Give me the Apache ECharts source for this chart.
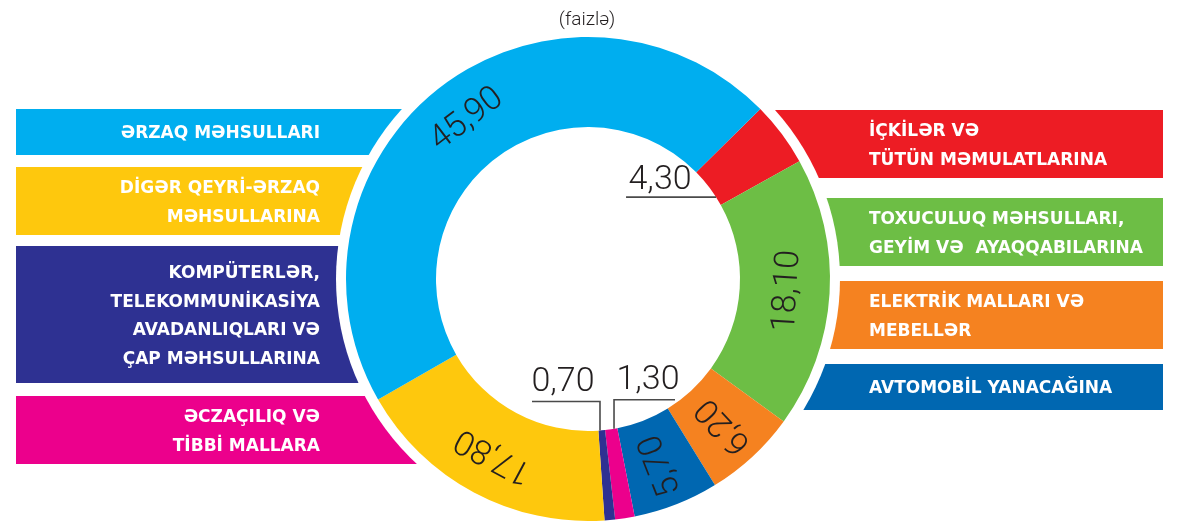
<!DOCTYPE html>
<html><head><meta charset="utf-8">
<script src="https://cdn.jsdelivr.net/npm/echarts@6/dist/echarts.min.js"></script>
<style>html,body{margin:0;padding:0;background:#fff}#c{width:1187px;height:528px}</style>
</head><body><div id="c"></div>
<script>
// ---------- DATA ----------
const categories = [
  'İÇKİLƏR VƏ\nTÜTÜN MƏMULATLARINA',
  'TOXUCULUQ MƏHSULLARI,\nGEYİM VƏ  AYAQQABILARINA',
  'ELEKTRİK MALLARI VƏ\nMEBELLƏR',
  'AVTOMOBİL YANACAĞINA',
  'ƏCZAÇILIQ VƏ\nTİBBİ MALLARA',
  'KOMPÜTERLƏR,\nTELEKOMMUNİKASİYA\nAVADANLIQLARI VƏ\nÇAP MƏHSULLARINA',
  'DİGƏR QEYRİ-ƏRZAQ\nMƏHSULLARINA',
  'ƏRZAQ MƏHSULLARI'
];
const values = [4.30, 18.10, 6.20, 5.70, 1.30, 0.70, 17.80, 45.90];
const colors = ['#ED1C24', '#6DBE45', '#F58220', '#0067B1', '#EC008C', '#2E3192', '#FEC80D', '#00AEEF'];
const subtitle = '(faizlə)';

// ---------- LAYOUT / STYLE ----------
const CX = 588, CY = 279, R0 = 152, R1 = 242, RW = 252;
const START = 44.6;
const NUM_FONT = 'Roboto, "Liberation Sans", sans-serif';
const BOX_FONT = '"DejaVu Sans", sans-serif';
// label mode: 'out' = tangential (top outward), 'in' = tangential (top inward), 'radial' = reading inward, 'ext' = outside leader
const labelMode = ['ext', 'in', 'radial', 'radial', 'ext', 'ext', 'out', 'out'];
// external leaders: anchor fraction through segment, kind
const extLab = {
  0: {frac: 0.775, kind: 'hleft', len: 90, textDx: -56, textY: -17},
  5: {frac: 0.76, kind: 'vleft', up: 29, len: 68, textDx: -37},
  4: {frac: 0.27, kind: 'vright', up: 29, len: 61, textDx: 34}
};
const boxes = [
  {i: 7, side: 'L', y: 109, h: 46},
  {i: 6, side: 'L', y: 167, h: 68},
  {i: 5, side: 'L', y: 246, h: 137},
  {i: 4, side: 'L', y: 396, h: 68},
  {i: 0, side: 'R', y: 110, h: 68},
  {i: 1, side: 'R', y: 198, h: 68},
  {i: 2, side: 'R', y: 281, h: 68},
  {i: 3, side: 'R', y: 364, h: 46}
];

const total = values.reduce((a, b) => a + b, 0);
let cum = 0;
const seg = values.map(v => {
  const a0 = START - 360 * cum / total; cum += v;
  const a1 = START - 360 * cum / total;
  return {a0, a1, mid: (a0 + a1) / 2};
});
const fmt = v => v.toFixed(2).replace('.', ',');
const polar = (deg, r) => [CX + r * Math.cos(deg * Math.PI / 180), CY - r * Math.sin(deg * Math.PI / 180)];

function rotFor(i) {
  const m = seg[i].mid, mode = labelMode[i];
  if (mode === 'out') return m - 90;
  if (mode === 'in') return m + 90;
  if (mode === 'radial') return m + 180;
  return 0;
}

const pieData = values.map((v, i) => ({
  name: categories[i],
  value: v,
  itemStyle: {color: colors[i]},
  label: labelMode[i] === 'ext' ? {show: false} : {show: true, rotate: rotFor(i)}
}));

const graphics = [];
// legend boxes (under white disk)
boxes.forEach(b => {
  const left = b.side === 'L';
  graphics.push({
    type: 'rect', z: 0, silent: true,
    shape: left ? {x: 16, y: b.y, width: CX - 16, height: b.h} : {x: CX, y: b.y, width: 1163 - CX, height: b.h},
    style: {fill: colors[b.i]}
  });
  graphics.push({
    type: 'text', z: 5, silent: true,
    style: {
      text: categories[b.i],
      x: left ? 320 : 869, y: b.y + b.h / 2 + 2,
      fill: '#ffffff', fontSize: 17, fontWeight: 'bold', fontFamily: BOX_FONT,
      lineHeight: 28.5,
      align: left ? 'right' : 'left', verticalAlign: 'middle',
      textAlign: left ? 'right' : 'left', textVerticalAlign: 'middle'
    }
  });
});
// external labels with leader lines
Object.keys(extLab).forEach(k => {
  const i = +k, e = extLab[k];
  const ang = seg[i].a0 - e.frac * (seg[i].a0 - seg[i].a1);
  const [ax, ay] = polar(ang, R0);
  let pts, tx, ty;
  if (e.kind === 'hleft') {
    pts = [[ax, ay], [ax - e.len, ay]];
    tx = ax + e.textDx; ty = ay + e.textY;
  } else {
    const yTop = ay - e.up;
    const dir = e.kind === 'vleft' ? -1 : 1;
    pts = [[ax, ay], [ax, yTop], [ax + dir * e.len, yTop]];
    tx = ax + e.textDx; ty = yTop - 19;
  }
  graphics.push({type: 'polyline', z: 10, silent: true, shape: {points: pts},
    style: {stroke: '#4a4a4a', lineWidth: 1.6, fill: null}});
  graphics.push({type: 'text', z: 10, silent: true,
    style: {text: fmt(values[i]), x: tx, y: ty, fill: '#231F20', fontSize: 34, fontWeight: 300, fontFamily: NUM_FONT,
      align: 'center', verticalAlign: 'middle', textAlign: 'center', textVerticalAlign: 'middle'}});
});
graphics.push({type: 'text', z: 10, silent: true,
  style: {text: subtitle, x: CX - 1, y: 20, fill: '#231F20', fontSize: 19, fontWeight: 300, fontFamily: NUM_FONT,
    align: 'center', verticalAlign: 'middle', textAlign: 'center', textVerticalAlign: 'middle'}});

const chart = echarts.init(document.getElementById('c'), null, {renderer: 'canvas'});
chart.setOption({
  animation: false,
  backgroundColor: '#ffffff',
  graphic: {elements: graphics},
  series: [
    {
      type: 'pie', z: 1, silent: true, center: [CX, CY], radius: [0, RW],
      label: {show: false}, labelLine: {show: false},
      emphasis: {disabled: true},
      data: [{value: 1, itemStyle: {color: '#ffffff'}}]
    },
    {
      type: 'pie', z: 2, silent: true, center: [CX, CY], radius: [R0, R1],
      startAngle: START, clockwise: true, avoidLabelOverlap: false,
      emphasis: {disabled: true},
      label: {position: 'inside', color: '#231F20', fontSize: 34, fontWeight: 300, fontFamily: NUM_FONT,
        formatter: p => fmt(p.value)},
      labelLine: {show: false},
      data: pieData
    }
  ]
});
</script></body></html>
